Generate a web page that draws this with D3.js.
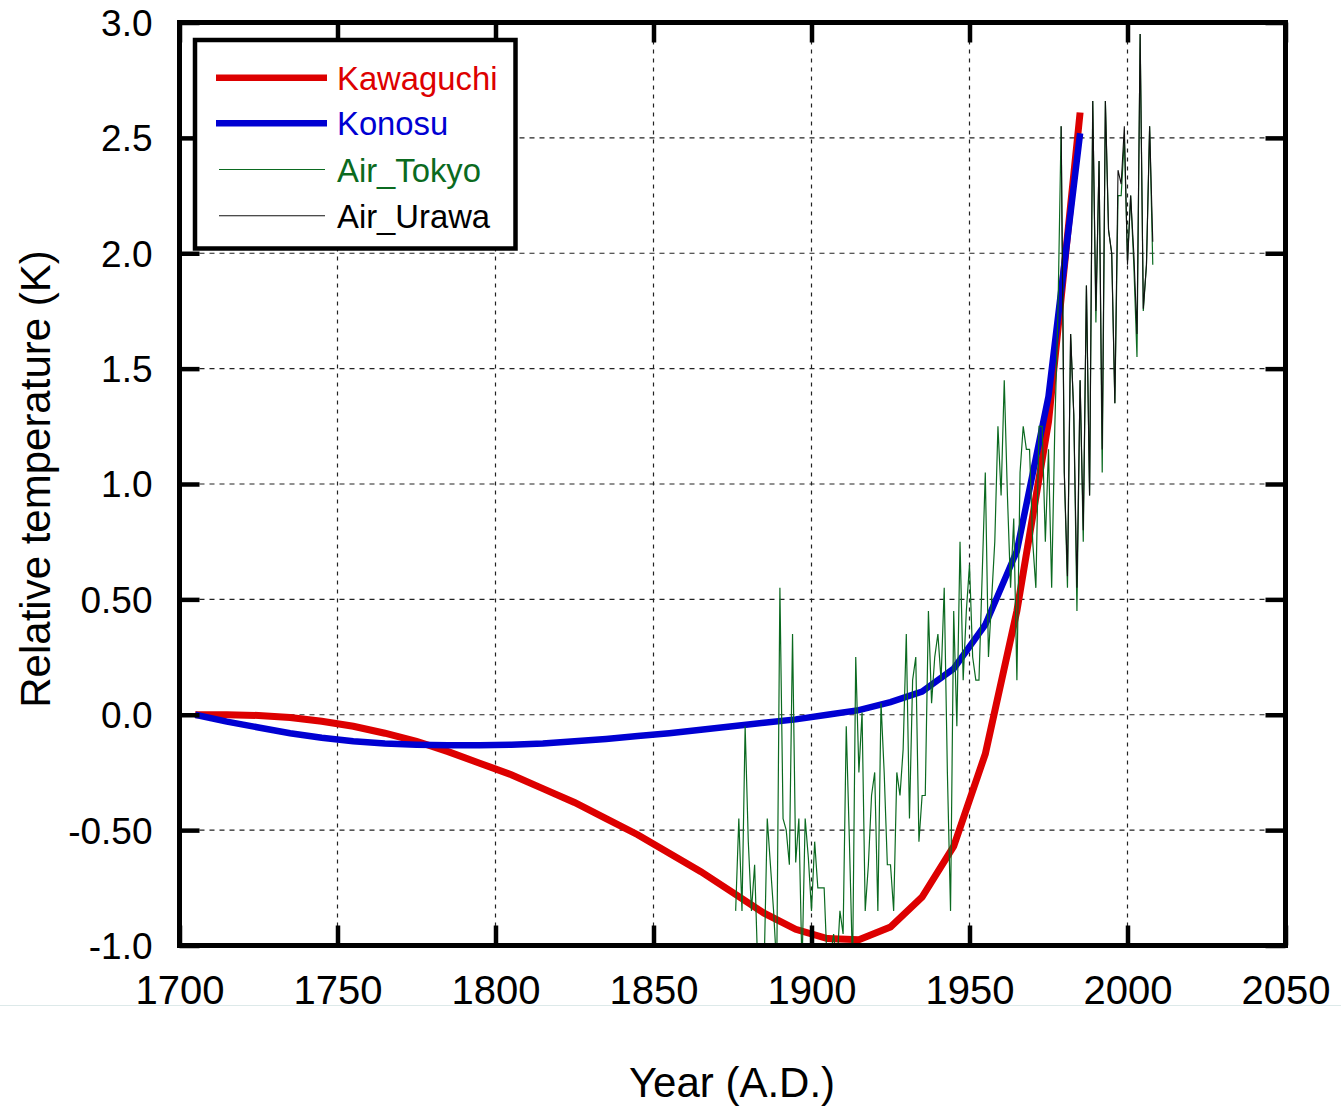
<!DOCTYPE html>
<html>
<head>
<meta charset="utf-8">
<script src="https://cdn.jsdelivr.net/npm/d3@7"></script>
<style>
  html, body { margin: 0; padding: 0; background: #fff; }
  svg { display: block; }
</style>
</head>
<body>
<div id="chart"></div>
<script>
// Model curves, one point every 10 years
const modelYears = [1705, 1715, 1725, 1735, 1745, 1755, 1765, 1775, 1785, 1795,
  1805, 1815, 1825, 1835, 1845, 1855, 1865, 1875, 1885, 1895,
  1905, 1915, 1925, 1935, 1945, 1955, 1965, 1975, 1985];
const kawaguchi = [0.00, 0.00, -0.003, -0.012, -0.028, -0.05, -0.08, -0.115, -0.16, -0.21,
  -0.26, -0.32, -0.38, -0.45, -0.52, -0.60, -0.68, -0.77, -0.86, -0.93,
  -0.97, -0.975, -0.92, -0.79, -0.57, -0.17, 0.45, 1.27, 2.61];
const konosu = [0.00, -0.03, -0.055, -0.08, -0.10, -0.115, -0.125, -0.13, -0.132, -0.132,
  -0.13, -0.125, -0.115, -0.105, -0.092, -0.08, -0.065, -0.05, -0.035, -0.02,
  0.00, 0.02, 0.055, 0.10, 0.20, 0.39, 0.71, 1.38, 2.52];

// Annual air temperature anomalies
const tokyoStart = 1876;
const airTokyo = [
  -0.85, -0.45, -0.85, -0.05, -0.55, -0.85, -0.65, -1.10, -1.05, -1.10,  // 1876-1885
  -0.45, -0.65, -0.85, -1.10, 0.55, -0.45, -0.50, -0.65, 0.35, -0.64,    // 1886-1895
  -0.45, -1.10, -0.45, -0.62, -0.85, -0.55, -0.75, -0.75, -0.75, -1.10,  // 1896-1905
  -1.05, -0.95, -1.10, -0.85, -0.95, -0.05, -0.55, -1.10, 0.25, -0.25,   // 1906-1915
  0.01, -0.85, -0.65, -0.35, -0.25, -0.85, 0.05, -0.25, -0.65, -0.65,    // 1916-1925
  -0.85, -0.25, -0.35, -0.15, 0.35, -0.45, 0.15, 0.25, -0.55, -0.35,     // 1926-1935
  -0.35, 0.45, 0.05, 0.25, 0.35, 0.15, 0.55, -0.25, -0.85, 0.45,         // 1936-1945
  -0.05, 0.75, 0.15, 0.45, 0.65, 0.25, 0.15, 0.15, 0.60, 1.05,           // 1946-1955
  0.25, 0.50, 0.75, 1.25, 0.95, 1.45, 0.95, 0.55, 0.85, 0.15,            // 1956-1965
  1.05, 1.25, 1.15, 1.15, 0.75, 0.55, 1.25, 1.25, 0.75, 1.15,            // 1966-1975
  0.55, 1.25, 1.75, 2.55, 1.05, 0.55, 1.65, 1.30, 0.45, 1.45,            // 1976-1985
  0.75, 1.86, 0.95, 2.66, 1.70, 2.40, 1.05, 2.66, 2.10, 2.00,            // 1986-1995
  1.35, 2.25, 2.25, 2.50, 1.97, 2.25, 1.95, 1.55, 2.95, 1.75,            // 1996-2005
  1.95, 2.55, 1.95                                                        // 2006-2008
];
const urawaStart = 1979;
const airUrawa = [
  2.55, 1.05, 0.60, 1.65, 1.30, 0.55, 1.45, 0.80, 1.86, 0.95,            // 1979-1988
  2.66, 1.75, 2.40, 1.15, 2.66, 2.10, 2.00, 1.35, 2.36, 2.30,            // 1989-1998
  2.55, 1.95, 2.25, 2.00, 1.65, 2.95, 1.76, 1.95, 2.55, 2.05             // 1999-2008
];

const xTicks = [1700, 1750, 1800, 1850, 1900, 1950, 2000, 2050];
const yTicks = [-1.0, -0.5, 0.0, 0.5, 1.0, 1.5, 2.0, 2.5, 3.0];
const yTickLabels = ['-1.0', '-0.50', '0.0', '0.50', '1.0', '1.5', '2.0', '2.5', '3.0'];
const legendNames = ['Kawaguchi', 'Konosu', 'Air_Tokyo', 'Air_Urawa'];

const W = 1341, H = 1107;
const FONT = '"Liberation Sans", Arial, sans-serif';
const RED = '#dd0000', BLUE = '#0000d2', GREEN = '#0b6a20';

const svg = d3.select('#chart').append('svg')
  .attr('width', W)
  .attr('height', H);

const x = d3.scaleLinear().domain([1700, 2050]).range([179.5, 1285.5]);
const y = d3.scaleLinear().domain([-1, 3]).range([945.5, 22.5]);
const [x0, x1] = x.range();
const [y0, y1] = y.range();

// faint rule under the tick labels
svg.append('line')
  .attr('x1', 0).attr('x2', W)
  .attr('y1', 1005.5).attr('y2', 1005.5)
  .attr('stroke', '#dde9e9')
  .attr('stroke-width', 1);

// Dashed grid
const grid = svg.append('g');
xTicks.slice(1, -1).forEach(t => {
  grid.append('line')
    .attr('x1', x(t)).attr('x2', x(t))
    .attr('y1', y1).attr('y2', y0)
    .attr('stroke', '#222')
    .attr('stroke-width', 1.2)
    .attr('stroke-dasharray', '4,5');
});
yTicks.slice(1, -1).forEach(t => {
  grid.append('line')
    .attr('x1', x0).attr('x2', x1)
    .attr('y1', y(t)).attr('y2', y(t))
    .attr('stroke', '#222')
    .attr('stroke-width', 1.2)
    .attr('stroke-dasharray', '5,5');
});

svg.append('clipPath').attr('id', 'plot-clip')
  .append('rect')
  .attr('x', x0).attr('y', y1)
  .attr('width', x1 - x0).attr('height', y0 - y1);

const plot = svg.append('g').attr('clip-path', 'url(#plot-clip)');

const line = d3.line()
  .x(d => x(d[0]))
  .y(d => y(d[1]));

// thick model curves
plot.append('path')
  .datum(modelYears.map((yr, i) => [yr, kawaguchi[i]]))
  .attr('fill', 'none')
  .attr('stroke', RED)
  .attr('stroke-width', 7)
  .attr('d', line);
plot.append('path')
  .datum(modelYears.map((yr, i) => [yr, konosu[i]]))
  .attr('fill', 'none')
  .attr('stroke', BLUE)
  .attr('stroke-width', 6.5)
  .attr('d', line);

// thin observed series
plot.append('path')
  .datum(airTokyo.map((v, i) => [tokyoStart + i, v]))
  .attr('fill', 'none')
  .attr('stroke', GREEN)
  .attr('stroke-width', 1.2)
  .attr('d', line);
plot.append('path')
  .datum(airUrawa.map((v, i) => [urawaStart + i, v]))
  .attr('fill', 'none')
  .attr('stroke', '#111')
  .attr('stroke-width', 1.1)
  .attr('d', line);

// Axes with inward ticks
const styleAxis = g => {
  g.select('.domain').remove();
  g.selectAll('.tick line').attr('stroke', '#000').attr('stroke-width', 4.5);
  g.selectAll('.tick text').attr('fill', '#000').attr('font-family', FONT);
};

svg.append('g')
  .attr('transform', `translate(0,${y0})`)
  .call(d3.axisBottom(x).tickValues(xTicks).tickSize(-20).tickPadding(30).tickFormat(d3.format('d')))
  .call(styleAxis)
  .call(g => g.selectAll('.tick text').attr('font-size', 40));

svg.append('g')
  .attr('transform', `translate(0,${y1})`)
  .call(d3.axisTop(x).tickValues(xTicks).tickSize(-20).tickFormat(''))
  .call(styleAxis);

svg.append('g')
  .attr('transform', `translate(${x0},0)`)
  .call(d3.axisLeft(y).tickValues(yTicks).tickSize(-20).tickPadding(27)
    .tickFormat((d, i) => yTickLabels[i]))
  .call(styleAxis)
  .call(g => g.selectAll('.tick text').attr('font-size', 37).attr('dy', '0.35em'));

svg.append('g')
  .attr('transform', `translate(${x1},0)`)
  .call(d3.axisRight(y).tickValues(yTicks).tickSize(-20).tickFormat(''))
  .call(styleAxis);

// Frame
svg.append('rect')
  .attr('x', x0).attr('y', y1)
  .attr('width', x1 - x0).attr('height', y0 - y1)
  .attr('fill', 'none')
  .attr('stroke', '#000')
  .attr('stroke-width', 5);

// Axis titles
svg.append('text')
  .attr('x', 732)
  .attr('y', 1097)
  .attr('text-anchor', 'middle')
  .attr('font-family', FONT)
  .attr('font-size', 42)
  .text('Year (A.D.)');

svg.append('text')
  .attr('transform', 'translate(50,479) rotate(-90)')
  .attr('text-anchor', 'middle')
  .attr('font-family', FONT)
  .attr('font-size', 42)
  .text('Relative temperature (K)');

// Legend
const legend = svg.append('g');
legend.append('rect')
  .attr('x', 195).attr('y', 40)
  .attr('width', 320.5).attr('height', 208.5)
  .attr('fill', '#fff')
  .attr('stroke', '#000')
  .attr('stroke-width', 4.5);

const legendStyle = [
  { color: RED, text: RED, width: 6.5, x1: 216, x2: 327, y: 77.7 },
  { color: BLUE, text: BLUE, width: 6.5, x1: 216, x2: 327, y: 123.3 },
  { color: GREEN, text: GREEN, width: 1.2, x1: 219, x2: 325, y: 169.5 },
  { color: '#111', text: '#000', width: 1.1, x1: 219, x2: 325, y: 215.7 }
];
legendNames.forEach((name, i) => {
  const s = legendStyle[i];
  legend.append('line')
    .attr('x1', s.x1).attr('x2', s.x2)
    .attr('y1', s.y).attr('y2', s.y)
    .attr('stroke', s.color)
    .attr('stroke-width', s.width);
  legend.append('text')
    .attr('x', 337)
    .attr('y', s.y + 12)
    .attr('font-family', FONT)
    .attr('font-size', 32.8)
    .attr('fill', s.text)
    .text(name);
});
</script>
</body>
</html>
